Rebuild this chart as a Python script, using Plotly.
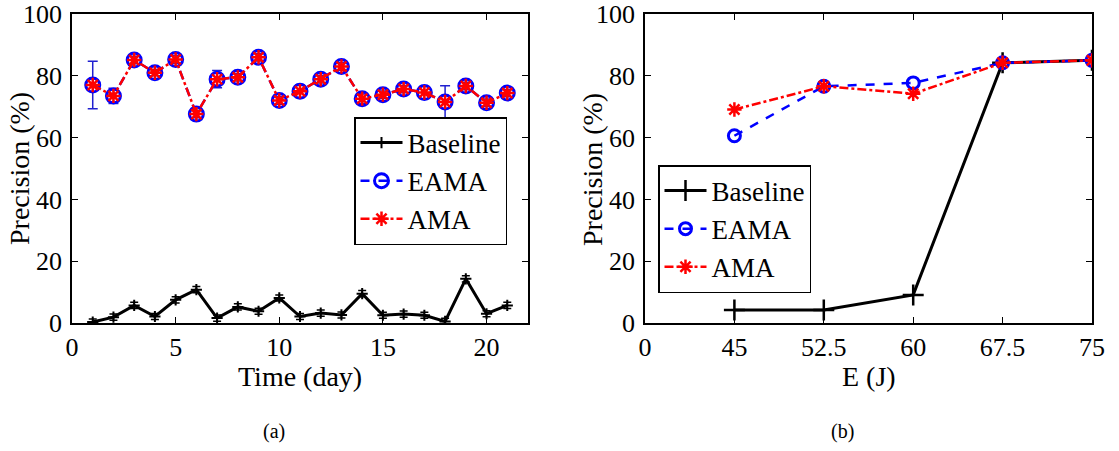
import plotly.graph_objects as go

# ---------------- data: panel (a) ----------------
days = list(range(1, 22))
baseline_a = [0.3, 1.9, 5.7, 2.1, 7.5, 10.8, 1.6, 5.2, 3.8, 8.1, 2.1, 3.2, 2.6, 9.5, 2.5, 2.9, 2.5, 0.5, 14.3, 3.0, 5.7]
baseline_a_err = [1.0] * 21
eama_a = [77.0, 73.5, 85.1, 81.0, 85.3, 67.6, 78.9, 79.5, 86.0, 72.0, 75.0, 78.9, 83.0, 72.6, 73.9, 75.7, 74.6, 71.5, 76.7, 71.3, 74.4]
eama_a_err = [7.7, 2.5, 1.2, 1.0, 1.2, 1.2, 2.8, 1.2, 1.2, 1.2, 2.0, 1.2, 1.2, 1.5, 1.2, 1.2, 2.0, 5.3, 1.2, 1.2, 1.2]
ama_a = [77.0, 73.5, 85.1, 81.0, 85.3, 67.6, 78.9, 79.5, 86.0, 72.0, 75.0, 78.9, 83.0, 72.6, 73.9, 75.7, 74.6, 71.5, 76.7, 71.3, 74.4]

# ---------------- data: panel (b) ----------------
e_categories = ["0", "45", "52.5", "60", "67.5", "75"]
e_values = ["45", "52.5", "60", "67.5", "75"]
baseline_b = [4.2, 4.2, 9.1, 84.2, 85.0]
eama_b = [60.6, 76.6, 77.7, 84.2, 85.0]
ama_b = [69.1, 76.6, 74.2, 84.2, 85.0]

x_ticks_a = [0, 5, 10, 15, 20]
y_ticks = [0, 20, 40, 60, 80, 100]

FONT = "Liberation Serif"
W, H = 1119, 451

fig = go.Figure()

# panel (a)
fig.add_trace(go.Scatter(
    x=days, y=baseline_a, name="Baseline", mode="lines+markers",
    line=dict(color="black", width=3),
    marker=dict(symbol="cross-thin-open", size=8, line=dict(color="black", width=2)),
    error_y=dict(type="data", array=baseline_a_err, color="black", thickness=1.5, width=4),
    xaxis="x", yaxis="y", legend="legend"))
fig.add_trace(go.Scatter(
    x=days, y=eama_a, name="EAMA", mode="lines+markers",
    line=dict(color="blue", width=2.5, dash="dash"),
    marker=dict(symbol="circle-open", size=14, line=dict(color="blue", width=3)),
    error_y=dict(type="data", array=eama_a_err, color="#2020d0", thickness=1.5, width=5),
    xaxis="x", yaxis="y", legend="legend"))
fig.add_trace(go.Scatter(
    x=days, y=ama_a, name="AMA", mode="lines+markers",
    line=dict(color="red", width=2.5, dash="dashdot"),
    marker=dict(symbol="asterisk-open", size=12, line=dict(color="red", width=2.5)),
    xaxis="x", yaxis="y", legend="legend"))

# panel (b)
fig.add_trace(go.Scatter(
    x=e_values, y=baseline_b, name="Baseline", mode="lines+markers",
    line=dict(color="black", width=3),
    marker=dict(symbol="cross-thin-open", size=15, line=dict(color="black", width=2.5)),
    xaxis="x2", yaxis="y2", legend="legend2"))
fig.add_trace(go.Scatter(
    x=e_values, y=eama_b, name="EAMA", mode="lines+markers",
    line=dict(color="blue", width=2.5, dash="dash"),
    marker=dict(symbol="circle-open", size=12, line=dict(color="blue", width=3)),
    xaxis="x2", yaxis="y2", legend="legend2"))
fig.add_trace(go.Scatter(
    x=e_values, y=ama_b, name="AMA", mode="lines+markers",
    line=dict(color="red", width=2.5, dash="dashdot"),
    marker=dict(symbol="asterisk-open", size=12, line=dict(color="red", width=2.5)),
    xaxis="x2", yaxis="y2", legend="legend2"))

ax_common = dict(
    showline=True, linecolor="black", linewidth=1.5, mirror="ticks",
    ticks="inside", ticklen=6, tickwidth=1, tickcolor="black",
    showgrid=False, zeroline=False, automargin=False,
    tickfont=dict(family=FONT, size=26, color="black"),
)

y_bot = (H - 323) / H
y_top = (H - 14) / H


def py(v):
    return (H - v) / H


legend_common = dict(xanchor="left", yanchor="top", bgcolor="white",
                     bordercolor="black", borderwidth=1.5,
                     font=dict(family=FONT, size=27, color="black"),
                     tracegroupgap=0, itemwidth=42)

fig.update_layout(
    width=W, height=H,
    margin=dict(l=0, r=0, t=0, b=0, autoexpand=False),
    paper_bgcolor="white", plot_bgcolor="white",
    font=dict(family=FONT, color="black"),
    xaxis=dict(domain=[72 / W, 528 / W], range=[0, 22], tickvals=x_ticks_a,
               anchor="y", ticklabelstandoff=0, **ax_common),
    yaxis=dict(domain=[y_bot, y_top], range=[0, 100], tickvals=y_ticks, anchor="x",
               ticklabelstandoff=3, **ax_common),
    xaxis2=dict(domain=[645 / W, 1092 / W], type="category", categoryorder="array",
                categoryarray=e_categories, range=[0, 5], anchor="y2", ticklabelstandoff=0,
                **ax_common),
    yaxis2=dict(domain=[y_bot, y_top], range=[0, 100], tickvals=y_ticks, anchor="x2",
                ticklabelstandoff=3, **ax_common),
    legend=dict(x=354 / W, y=py(117), **legend_common),
    legend2=dict(x=658 / W, y=py(165), **legend_common),
    showlegend=True,
    annotations=[
        dict(text="Time (day)", x=300 / W, y=py(376), xanchor="center", yanchor="middle",
             xref="paper", yref="paper", showarrow=False,
             font=dict(family=FONT, size=28, color="black")),
        dict(text="E (J)", x=869 / W, y=py(376), xanchor="center", yanchor="middle",
             xref="paper", yref="paper", showarrow=False,
             font=dict(family=FONT, size=28, color="black")),
        dict(text="Precision (%)", textangle=-90, x=19 / W, y=py(169),
             xanchor="center", yanchor="middle",
             xref="paper", yref="paper", showarrow=False,
             font=dict(family=FONT, size=28, color="black")),
        dict(text="Precision (%)", textangle=-90, x=592 / W, y=py(169),
             xanchor="center", yanchor="middle",
             xref="paper", yref="paper", showarrow=False,
             font=dict(family=FONT, size=28, color="black")),
        dict(text="(a)", x=274 / W, y=py(431), xanchor="center", yanchor="middle",
             xref="paper", yref="paper",
             showarrow=False, font=dict(family=FONT, size=20, color="black")),
        dict(text="(b)", x=843 / W, y=py(431), xanchor="center", yanchor="middle",
             xref="paper", yref="paper",
             showarrow=False, font=dict(family=FONT, size=20, color="black")),
    ],
)

fig.write_html("out.html")
